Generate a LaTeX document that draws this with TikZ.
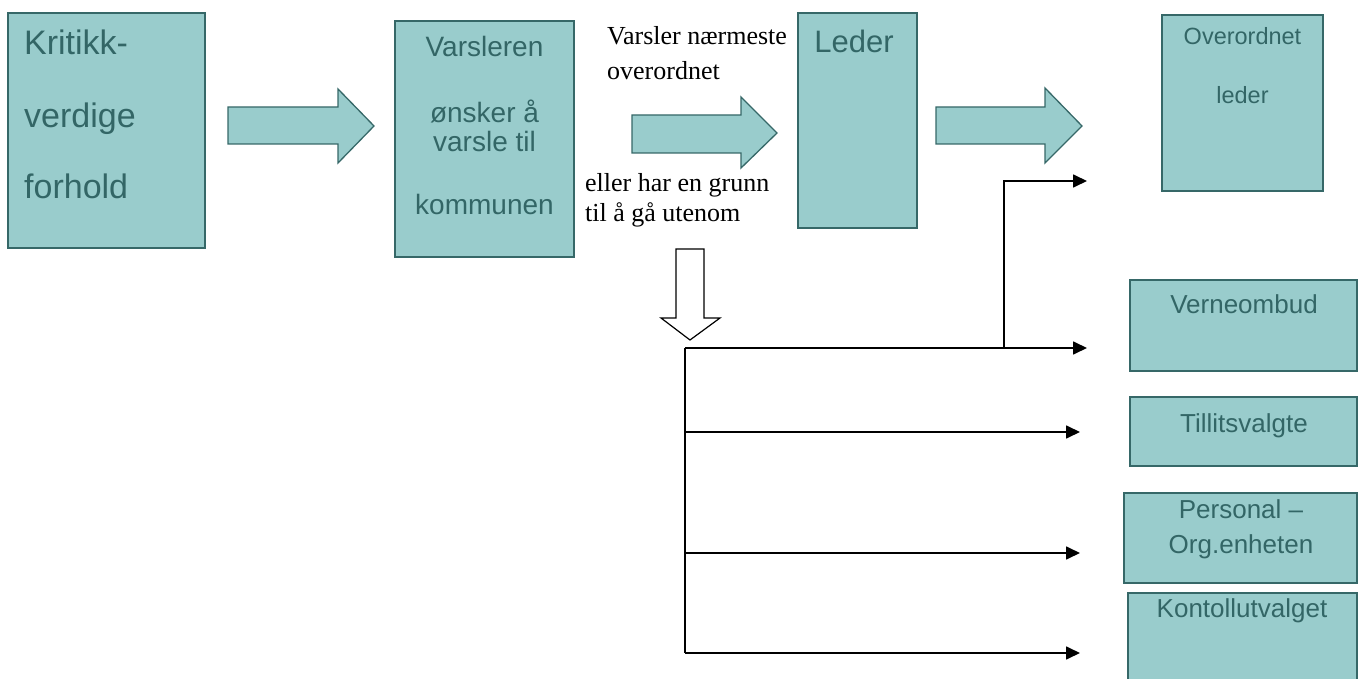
\documentclass[tikz,border=0pt]{standalone}
\usepackage{fontspec}
\setmainfont{Liberation Serif}
\newfontfamily\boxfont{Liberation Sans}
\usetikzlibrary{arrows.meta}
\definecolor{tealfill}{RGB}{153,204,204}
\definecolor{tealline}{RGB}{54,104,104}
\definecolor{tealtext}{RGB}{51,102,102}
\tikzset{
  tbox/.style={draw=tealline, fill=tealfill, line width=1.3pt},
  blockarrow/.style={draw=tealline, fill=tealfill, line width=1.3pt, line join=miter},
  hollowarrow/.style={draw=black, fill=white, line width=1.2pt, line join=miter},
  btext/.style={anchor=base, inner sep=0pt, text=tealtext, font=\boxfont},
  btextw/.style={anchor=base west, inner sep=0pt, text=tealtext, font=\boxfont},
  lbl/.style={anchor=base west, inner sep=0pt, font=\fontsize{26}{30}\selectfont},
  conn/.style={draw=black, line width=1.7pt},
  connarrow/.style={conn, -{Triangle[length=14pt,width=13pt]}}
}
\begin{document}
\begin{tikzpicture}[x=1pt,y=-1pt]
\useasboundingbox (0,0) rectangle (1358,679);

% boxes
\draw[tbox] (8,13) rectangle (205,248);
\node[btextw, font=\boxfont\fontsize{34}{40}\selectfont] (kritikk1) at (24,55) {Kritikk-};
\node[btextw, font=\boxfont\fontsize{34}{40}\selectfont] (kritikk2) at (24,128) {verdige};
\node[btextw, font=\boxfont\fontsize{34}{40}\selectfont] (kritikk3) at (24,199) {forhold};

\draw[tbox] (395,21) rectangle (574,257);
\node[btext, font=\boxfont\fontsize{28}{34}\selectfont] (vars1) at (484.5,57) {Varsleren};
\node[btext, font=\boxfont\fontsize{28}{34}\selectfont] (vars2) at (484.5,123) {ønsker å};
\node[btext, font=\boxfont\fontsize{28}{34}\selectfont] (vars3) at (484.5,152) {varsle til};
\node[btext, font=\boxfont\fontsize{28}{34}\selectfont] (vars4) at (484.5,215) {kommunen};

\draw[tbox] (798,13) rectangle (917,228);
\node[btext, font=\boxfont\fontsize{31}{36}\selectfont] (leder) at (854,53) {Leder};

\draw[tbox] (1162,15) rectangle (1323,191);
\node[btext, font=\boxfont\fontsize{23.5}{28}\selectfont] (over1) at (1242.5,45) {Overordnet};
\node[btext, font=\boxfont\fontsize{23.5}{28}\selectfont] (over2) at (1242.5,104) {leder};

\draw[tbox] (1130,280) rectangle (1357,371);
\node[btext, font=\boxfont\fontsize{26}{30}\selectfont] (verne) at (1244,313) {Verneombud};

\draw[tbox] (1130,397) rectangle (1357,466);
\node[btext, font=\boxfont\fontsize{26}{30}\selectfont] (tillit) at (1244,432) {Tillitsvalgte};

\draw[tbox] (1124,493) rectangle (1357,583);
\node[btext, font=\boxfont\fontsize{26}{30}\selectfont] (pers1) at (1241,518) {Personal –};
\node[btext, font=\boxfont\fontsize{26}{30}\selectfont] (pers2) at (1241,553) {Org.enheten};

\draw[tbox] (1128,593) rectangle (1357,695);
\node[btext, font=\boxfont\fontsize{26}{30}\selectfont] (kontroll) at (1242,617) {Kontollutvalget};

% block arrows
\draw[blockarrow] (228,107) -- (338,107) -- (338,89) -- (374,126) -- (338,163) -- (338,144) -- (228,144) -- cycle;
\draw[blockarrow] (632,115) -- (741,115) -- (741,97) -- (777,133) -- (741,168) -- (741,153) -- (632,153) -- cycle;
\draw[blockarrow] (936,107) -- (1045,107) -- (1045,88) -- (1082,126) -- (1045,163) -- (1045,144) -- (936,144) -- cycle;

% hollow down arrow
\draw[hollowarrow] (676,249) -- (704,249) -- (704,318) -- (720,318) -- (690,340) -- (661,318) -- (676,318) -- cycle;

% labels
\node[lbl] (lblA1) at (607,45) {Varsler nærmeste};
\node[lbl] (lblA2) at (607,80) {overordnet};
\node[lbl] (lblB1) at (585,192) {eller har en grunn};
\node[lbl] (lblB2) at (585,222) {til å gå utenom};

% connectors
\coordinate (trunkTop) at (685,348);
\coordinate (trunkBot) at (685,653);
\coordinate (branchA) at (1004,348);
\coordinate (branchTop) at (1004,181);
\coordinate (endTop) at (1087,181);
\coordinate (endVerne) at (1087,348);
\coordinate (rowTillit) at (685,432);
\coordinate (endTillit) at (1080,432);
\coordinate (rowPers) at (685,553);
\coordinate (endPers) at (1080,553);
\coordinate (endKontroll) at (1080,653);

\draw[conn] (trunkTop) -- (trunkBot);
\draw[connarrow] (trunkTop) -- (endVerne);
\draw[connarrow, line join=miter] (branchA) -- (branchTop) -- (endTop);
\draw[connarrow] (rowTillit) -- (endTillit);
\draw[connarrow] (rowPers) -- (endPers);
\draw[connarrow] (trunkBot) -- (endKontroll);
\end{tikzpicture}
\end{document}
